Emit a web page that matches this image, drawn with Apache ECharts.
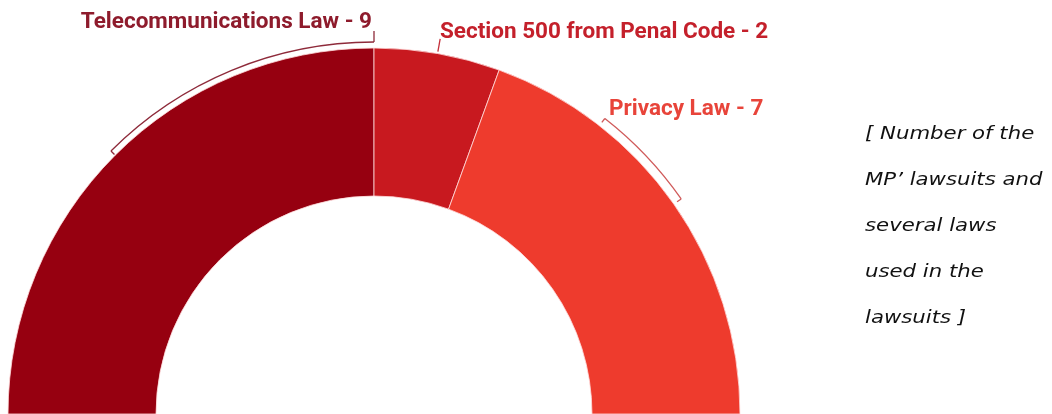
<!DOCTYPE html>
<html>
<head>
<meta charset="utf-8">
<script src="https://cdn.jsdelivr.net/npm/echarts@6/dist/echarts.min.js"></script>
<style>
  html, body { margin: 0; padding: 0; background: #fff; }
  #chart { width: 1052px; height: 414px; }
</style>
</head>
<body>
<div id="chart"></div>
<script>
// 数据
const lawNames = ['Telecommunications Law', 'Section 500 from Penal Code', 'Privacy Law'];
const lawCounts = [9, 2, 7];
const sliceColors = ['#960010', '#c8191f', '#ee3b2d'];
const labelColors = ['#8e1b2c', '#c4202b', '#e8443a'];
const noteLines = ['[ Number of the', 'MP\u2019 lawsuits and', 'several laws', 'used in the', 'lawsuits ]'];

const cx = 374, cy = 414, rIn = 218, rOut = 366;
const total = lawCounts.reduce((a, b) => a + b, 0);

// 每个扇区的起止角度（数学角度，逆时针，左边为180）
const angles = [];
let acc = 180;
lawCounts.forEach((v) => {
  const span = v / total * 180;
  angles.push({ start: acc, end: acc - span, mid: acc - span / 2 });
  acc -= span;
});

const rad = (d) => d * Math.PI / 180;
const pt = (deg, r) => [cx + r * Math.cos(rad(deg)), cy - r * Math.sin(rad(deg))];

function bracket(a0, a1, r, color, tick0, tick1) {
  // a0 > a1 (数学角度)，屏幕上顺时针画
  const els = [{
    type: 'arc',
    shape: { cx: cx, cy: cy, r: r, startAngle: -rad(a0), endAngle: -rad(a1), clockwise: true },
    style: { stroke: color, lineWidth: 1.3, fill: null }
  }];
  [[a0, tick0], [a1, tick1]].forEach(([a, t]) => {
    if (!t) return;
    const p1 = pt(a, r), p2 = pt(a, r + t);
    els.push({
      type: 'line',
      shape: { x1: p1[0], y1: p1[1], x2: p2[0], y2: p2[1] },
      style: { stroke: color, lineWidth: 1.3 }
    });
  });
  return els;
}

const chart = echarts.init(document.getElementById('chart'));

const graphics = [];
// Telecommunications bracket: middle -> top end
graphics.push(...bracket(angles[0].mid, angles[0].end, 372, '#8e2a3a', -5, 0));
graphics.push({
  type: 'line',
  shape: { x1: cx, y1: cy - 372, x2: cx, y2: cy - 383 },
  style: { stroke: '#8e2a3a', lineWidth: 1.3 }
});
// Section 500 leader
(function () {
  const p1 = pt(angles[1].mid, 368), p2 = pt(angles[1].mid, 381);
  graphics.push({
    type: 'line',
    shape: { x1: p1[0], y1: p1[1], x2: p2[0], y2: p2[1] },
    style: { stroke: '#c4303a', lineWidth: 1.3 }
  });
})();
// Privacy bracket
graphics.push(...bracket(52, angles[2].mid, 375, '#d05a5a', -5, -5));

// labels
const labelFont = 'bold 22.5px Roboto';
graphics.push({
  type: 'text', x: 372, y: 34,
  style: { text: lawNames[0] + ' - ' + lawCounts[0], fill: labelColors[0], font: labelFont, textAlign: 'right', textVerticalAlign: 'bottom' }
});
graphics.push({
  type: 'text', x: 440, y: 44,
  style: { text: lawNames[1] + ' - ' + lawCounts[1], fill: labelColors[1], font: labelFont, textAlign: 'left', textVerticalAlign: 'bottom' }
});
graphics.push({
  type: 'text', x: 609, y: 121,
  style: { text: lawNames[2] + ' - ' + lawCounts[2], fill: labelColors[2], font: labelFont, textAlign: 'left', textVerticalAlign: 'bottom' }
});
// note
graphics.push({
  type: 'text', x: 865, y: 111, scaleX: 1.18, originX: 0, originY: 0,
  style: {
    text: noteLines.join('\n'), fill: '#111',
    font: 'italic 18px "DejaVu Sans"', lineHeight: 46,
    textAlign: 'left', textVerticalAlign: 'top'
  }
});

const pieData = lawNames.map((n, i) => ({
  name: n, value: lawCounts[i], itemStyle: { color: sliceColors[i] }
}));
pieData.push({ name: 'blank', value: total, itemStyle: { color: 'none', borderWidth: 0 }, emphasis: { disabled: true } });

chart.setOption({
  animation: false,
  backgroundColor: '#fff',
  series: [{
    type: 'pie',
    center: [cx, cy],
    radius: [rIn, rOut],
    startAngle: 180,
    clockwise: true,
    silent: true,
    label: { show: false },
    labelLine: { show: false },
    itemStyle: { borderColor: 'rgba(255,220,220,0.8)', borderWidth: 1 },
    data: pieData
  }],
  graphic: graphics
});
</script>
</body>
</html>
